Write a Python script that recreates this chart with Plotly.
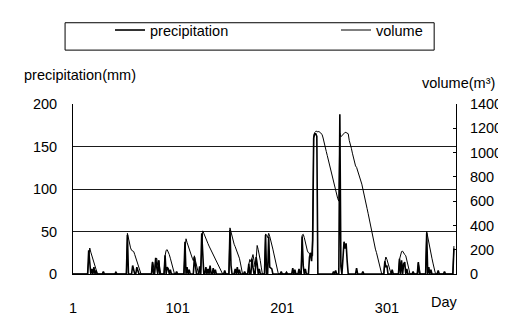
import plotly.graph_objects as go

# Day index (categories on the x axis)
days = list(range(1, 366))

# Daily precipitation (mm), days 1..365, 10 values per row
precipitation = [
    0, 0, 0, 0, 0, 0, 0, 0, 0, 0,
    0, 0, 0, 0, 0, 28, 12, 0, 6, 0,
    8, 0, 4, 0, 0, 0, 0, 0, 0, 3,
    0, 0, 0, 0, 0, 0, 0, 0, 0, 0,
    0, 2, 0, 0, 0, 0, 0, 0, 0, 0,
    0, 0, 46, 0, 0, 0, 0, 10, 6, 0,
    0, 8, 4, 0, 0, 0, 0, 0, 0, 0,
    0, 0, 0, 0, 0, 0, 14, 0, 0, 19,
    8, 0, 16, 0, 0, 0, 0, 0, 22, 0,
    8, 6, 0, 5, 0, 0, 0, 0, 0, 3,
    0, 0, 0, 0, 0, 0, 0, 38, 0, 8,
    0, 5, 0, 0, 0, 0, 20, 6, 0, 0,
    0, 9, 0, 48, 20, 0, 0, 8, 0, 6,
    0, 10, 0, 0, 7, 0, 5, 0, 0, 0,
    0, 0, 0, 0, 0, 4, 0, 0, 0, 0,
    52, 10, 0, 0, 0, 6, 0, 8, 0, 5,
    0, 0, 0, 0, 3, 0, 0, 0, 12, 0,
    0, 18, 8, 0, 0, 20, 12, 0, 6, 0,
    0, 0, 0, 0, 46, 0, 0, 44, 8, 7,
    6, 0, 0, 0, 0, 0, 0, 0, 0, 3,
    0, 0, 0, 0, 2, 0, 0, 0, 0, 0,
    7, 0, 5, 0, 0, 0, 6, 0, 0, 44,
    10, 0, 6, 0, 0, 0, 20, 25, 15, 40,
    160, 165, 165, 162, 0, 0, 0, 0, 0, 0,
    0, 0, 0, 0, 0, 0, 0, 0, 0, 3,
    0, 4, 0, 0, 0, 188, 9, 0, 25, 38,
    30, 36, 15, 0, 0, 0, 0, 0, 0, 0,
    0, 7, 0, 0, 0, 0, 0, 3, 0, 0,
    0, 0, 0, 0, 0, 0, 0, 0, 0, 0,
    0, 0, 0, 0, 0, 0, 0, 0, 15, 8,
    10, 0, 0, 0, 0, 5, 0, 0, 0, 0,
    0, 0, 18, 0, 16, 0, 12, 14, 0, 6,
    0, 0, 0, 0, 0, 3, 0, 0, 0, 0,
    14, 0, 0, 0, 0, 0, 0, 0, 48, 0,
    8, 0, 5, 0, 0, 0, 0, 0, 0, 4,
    0, 0, 0, 0, 0, 3, 0, 0, 0, 0,
    0, 0, 0, 0, 30,
]

# Daily volume (m3), days 1..365, 10 values per row
volume = [
    0, 0, 0, 0, 0, 0, 0, 0, 0, 0,
    0, 0, 0, 0, 0, 120, 214, 180, 150, 115,
    85, 55, 30, 10, 0, 0, 0, 0, 0, 0,
    0, 0, 0, 0, 0, 0, 0, 0, 0, 0,
    0, 0, 0, 0, 0, 0, 0, 0, 0, 0,
    0, 0, 335, 290, 250, 215, 195, 190, 185, 160,
    130, 100, 70, 40, 15, 0, 0, 0, 0, 0,
    0, 0, 0, 0, 0, 0, 100, 50, 20, 120,
    130, 70, 110, 40, 0, 0, 0, 0, 150, 195,
    200, 185, 160, 130, 95, 60, 25, 0, 0, 0,
    0, 0, 0, 0, 0, 0, 0, 200, 290, 260,
    230, 200, 175, 150, 130, 110, 150, 110, 70, 30,
    0, 0, 0, 200, 355, 335, 310, 290, 270, 250,
    230, 212, 195, 180, 165, 150, 130, 115, 95, 75,
    55, 35, 15, 0, 0, 0, 0, 0, 0, 0,
    380, 340, 300, 270, 245, 225, 200, 180, 160, 130,
    90, 45, 0, 0, 0, 0, 0, 0, 80, 120,
    100, 140, 160, 110, 60, 120, 235, 200, 160, 110,
    50, 0, 0, 0, 330, 320, 300, 335, 310, 280,
    245, 205, 165, 125, 85, 45, 10, 0, 0, 0,
    0, 0, 0, 0, 0, 0, 0, 0, 0, 0,
    0, 0, 0, 0, 0, 0, 0, 0, 0, 320,
    327, 300, 260, 220, 190, 175, 165, 155, 150, 150,
    1140, 1165, 1175, 1175, 1170, 1174, 1165, 1160, 1150, 1120,
    1090, 1050, 1010, 975, 940, 905, 866, 825, 780, 741,
    710, 675, 645, 620, 600, 1160, 1130, 1140, 1155, 1165,
    1167, 1165, 1160, 1155, 1100, 1075, 1035, 995, 954, 920,
    890, 878, 850, 828, 800, 778, 740, 700, 653, 620,
    585, 540, 500, 455, 402, 360, 315, 276, 240, 205,
    176, 140, 110, 75, 35, 0, 0, 0, 100, 140,
    120, 90, 55, 20, 0, 0, 0, 0, 0, 0,
    0, 0, 120, 170, 185, 188, 170, 160, 150, 120,
    80, 40, 0, 0, 0, 0, 0, 0, 0, 0,
    90, 40, 0, 0, 0, 0, 0, 0, 350, 300,
    255, 210, 170, 130, 90, 50, 15, 0, 0, 0,
    0, 0, 0, 0, 0, 0, 0, 0, 0, 0,
    0, 0, 0, 0, 230,
]

x_tickvals = [1, 101, 201, 301]
x_ticktext = ["1", "101", "201", "301"]
y1_ticks = [0, 50, 100, 150, 200]
y2_ticks = [0, 200, 400, 600, 800, 1000, 1200, 1400]

FONT = "Liberation Sans, Arial, Helvetica, sans-serif"
FS = 14.5

fig = go.Figure()
fig.add_trace(go.Scatter(
    x=days, y=precipitation, name="precipitation", mode="lines",
    line=dict(color="black", width=1.6), yaxis="y", legend="legend",
))
fig.add_trace(go.Scatter(
    x=days, y=volume, name="volume", mode="lines",
    line=dict(color="black", width=1.0), yaxis="y2", legend="legend2",
))

legend_common = dict(
    orientation="h", xref="container", yref="container",
    y=0.931, xanchor="left", yanchor="middle",
    bgcolor="rgba(0,0,0,0)", borderwidth=0,
    font=dict(size=FS, family=FONT, color="black"),
    itemclick=False, itemdoubleclick=False,
)

fig.update_layout(
    width=506, height=320,
    margin=dict(l=65, r=54, t=96, b=38, pad=0),
    paper_bgcolor="white", plot_bgcolor="white",
    font=dict(family=FONT, size=FS, color="black"),
    showlegend=True,
    legend=dict(x=0.2016, **legend_common),
    legend2=dict(x=0.6482, **legend_common),
    xaxis=dict(
        range=[1, 367], tickvals=x_tickvals, ticktext=x_ticktext,
        showgrid=False, zeroline=False, showline=True, linecolor="black", linewidth=1,
        ticks="", ticklabelstandoff=21, tickfont=dict(size=FS),
    ),
    yaxis=dict(
        range=[0, 200], tickvals=y1_ticks,
        showgrid=True, gridcolor="#1a1a1a", gridwidth=1,
        zeroline=False, showline=True, linecolor="black", linewidth=1,
        ticks="", ticklabelstandoff=12, tickfont=dict(size=FS),
    ),
    yaxis2=dict(
        range=[0, 1400], tickvals=y2_ticks, overlaying="y", side="right",
        showgrid=False, zeroline=False, showline=True, linecolor="black", linewidth=1,
        ticks="inside", ticklen=3, tickcolor="black",
        ticklabelstandoff=10, tickfont=dict(size=FS),
    ),
    shapes=[dict(
        type="rect", xref="paper", yref="paper",
        x0=-0.0207, x1=0.943, y0=1.317, y1=1.478,
        line=dict(color="black", width=1), fillcolor="rgba(0,0,0,0)", layer="above",
    )],
    annotations=[
        dict(text="precipitation(mm)", xref="paper", yref="paper",
             x=-0.1344, y=1.172, xanchor="left", yanchor="middle",
             showarrow=False, font=dict(size=FS)),
        dict(text="volume(m³)", xref="paper", yref="paper",
             x=1.108, y=1.124, xanchor="right", yanchor="middle",
             showarrow=False, font=dict(size=FS)),
        dict(text="Day", xref="paper", yref="paper",
             x=0.969, y=-0.167, xanchor="center", yanchor="middle",
             showarrow=False, font=dict(size=FS)),
    ],
)

fig.write_html("out.html")
